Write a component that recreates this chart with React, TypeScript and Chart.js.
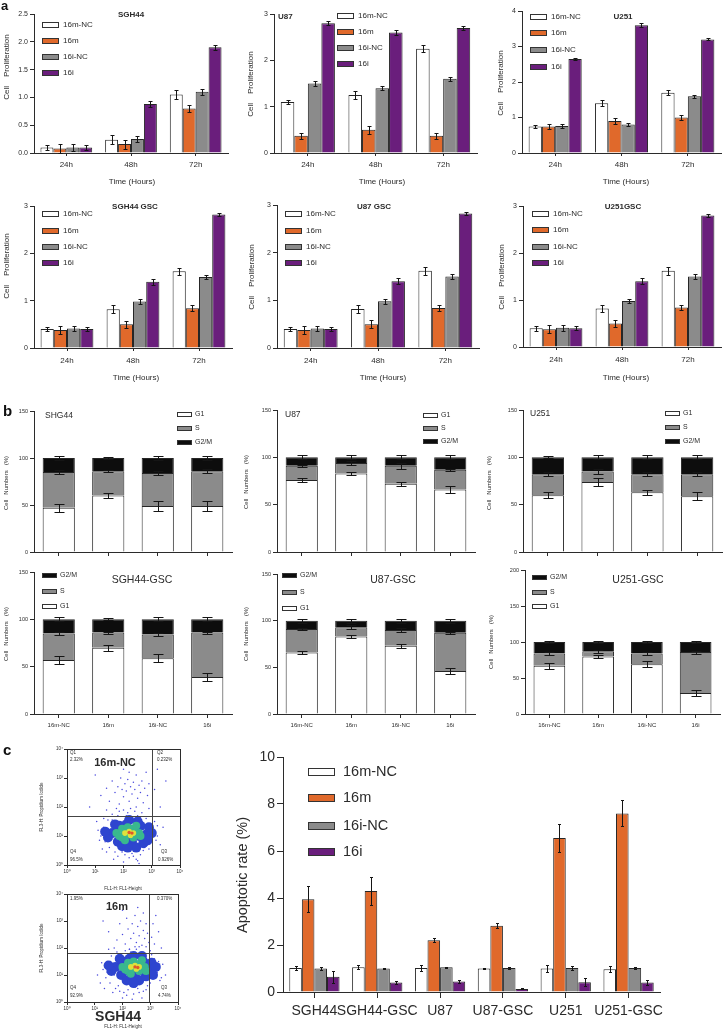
import React, { useEffect, useRef } from "react";
import { Chart, registerables } from "chart.js";

Chart.register(...registerables);

const FONT = "'Liberation Sans', Arial, Helvetica, sans-serif";
const INK = "#2b2b2b";
Chart.defaults.font.family = FONT;
Chart.defaults.color = INK;

const WHITE = "#ffffff";
const ORANGE = "#E0692B";
const GRAY = "#8B8B8B";
const PURPLE = "#6A1E7C";
const BLACK = "#0d0d0d";

// ---------------- panel a : proliferation ----------------
const TREATMENTS = ["16m-NC", "16m", "16i-NC", "16i"];
const TREATMENT_COLORS = [WHITE, ORANGE, GRAY, PURPLE];
const TIMES = ["24h", "48h", "72h"];

const SGH44_PROLIF = [
  [0.1, 0.24, 1.05],
  [0.08, 0.16, 0.8],
  [0.1, 0.25, 1.1],
  [0.1, 0.88, 1.9],
];
const SGH44_PROLIF_ERR = [
  [0.05, 0.08, 0.08],
  [0.08, 0.08, 0.06],
  [0.06, 0.05, 0.05],
  [0.05, 0.06, 0.04],
];
const U87_PROLIF = [
  [1.1, 1.25, 2.25],
  [0.37, 0.5, 0.37],
  [1.5, 1.4, 1.6],
  [2.8, 2.6, 2.7],
];
const U87_PROLIF_ERR = [
  [0.05, 0.08, 0.08],
  [0.07, 0.08, 0.06],
  [0.05, 0.05, 0.05],
  [0.04, 0.06, 0.04],
];
const U251_PROLIF = [
  [0.75, 1.4, 1.7],
  [0.75, 0.9, 1.0],
  [0.76, 0.8, 1.6],
  [2.65, 3.6, 3.2],
];
const U251_PROLIF_ERR = [
  [0.05, 0.08, 0.07],
  [0.08, 0.08, 0.06],
  [0.05, 0.05, 0.04],
  [0.03, 0.05, 0.03],
];
const SGH44GSC_PROLIF = [
  [0.4, 0.82, 1.62],
  [0.38, 0.5, 0.84],
  [0.41, 0.98, 1.5],
  [0.4, 1.4, 2.82],
];
const SGH44GSC_PROLIF_ERR = [
  [0.05, 0.08, 0.08],
  [0.08, 0.08, 0.06],
  [0.06, 0.05, 0.05],
  [0.04, 0.06, 0.03],
];
const U87GSC_PROLIF = [
  [0.4, 0.82, 1.62],
  [0.38, 0.5, 0.84],
  [0.41, 0.98, 1.5],
  [0.4, 1.4, 2.82],
];
const U87GSC_PROLIF_ERR = [
  [0.05, 0.08, 0.08],
  [0.08, 0.08, 0.06],
  [0.06, 0.05, 0.05],
  [0.04, 0.06, 0.03],
];
const U251GSC_PROLIF = [
  [0.4, 0.82, 1.62],
  [0.38, 0.5, 0.84],
  [0.41, 0.98, 1.5],
  [0.4, 1.4, 2.8],
];
const U251GSC_PROLIF_ERR = [
  [0.05, 0.08, 0.08],
  [0.08, 0.08, 0.06],
  [0.06, 0.05, 0.05],
  [0.04, 0.06, 0.03],
];

// ---------------- panel b : cell cycle ----------------
const PHASES = ["G1", "S", "G2/M"];
const PHASE_COLORS = [WHITE, GRAY, BLACK];

const SHG44_G1 = [47, 60, 49, 49];
const SHG44_S = [38, 26, 35, 37];
const SHG44_G2M = [15, 14, 16, 14];
const SHG44_ERR = [[4, 3, 5, 5], [2, 1, 2, 2], [2, 1, 2, 2]];

const U87_G1 = [76, 83, 72, 66];
const U87_S = [15, 11, 19, 21];
const U87_G2M = [9, 6, 9, 13];
const U87_ERR = [[2, 2, 2, 4], [1, 2, 3, 1], [2, 2, 2, 2]];

const U251_G1 = [60, 74, 63, 59];
const U251_S = [22, 11, 19, 23];
const U251_G2M = [18, 15, 18, 18];
const U251_ERR = [[3, 4, 3, 4], [2, 3, 2, 2], [1, 2, 2, 2]];

const SGH44GSC_G1 = [57, 70, 59, 39];
const SGH44GSC_S = [28, 16, 25, 47];
const SGH44GSC_G2M = [15, 14, 16, 14];
const SGH44GSC_ERR = [[4, 3, 4, 4], [2, 1, 2, 1], [2, 1, 2, 2]];

const U87GSC_G1 = [66, 83, 73, 46];
const U87GSC_S = [25, 10, 17, 41];
const U87GSC_G2M = [9, 7, 10, 13];
const U87GSC_ERR = [[2, 2, 2, 3], [1, 2, 2, 1], [2, 2, 2, 2]];

const U251GSC_G1 = [67, 80, 69, 29];
const U251GSC_S = [17, 7, 15, 57];
const U251GSC_G2M = [16, 13, 16, 14];
const U251GSC_ERR = [[4, 2, 4, 4], [2, 2, 2, 2], [2, 2, 2, 2]];

// ---------------- panel c : apoptosis ----------------
const CELL_LINES = ["SGH44", "SGH44-GSC", "U87", "U87-GSC", "U251", "U251-GSC"];
const APO_16M_NC = [1.02, 1.05, 1.02, 1.0, 1.0, 0.97];
const APO_16M = [3.95, 4.3, 2.2, 2.82, 6.55, 7.6];
const APO_16I_NC = [1.0, 1.0, 1.05, 1.02, 1.02, 1.02];
const APO_16I = [0.65, 0.4, 0.45, 0.13, 0.42, 0.4];
const APO_ERR = [
  [0.08, 0.08, 0.12, 0.02, 0.15, 0.12],
  [0.55, 0.58, 0.08, 0.1, 0.6, 0.55],
  [0.06, 0.04, 0.02, 0.05, 0.08, 0.05],
  [0.25, 0.05, 0.06, 0.02, 0.18, 0.12],
];

// flow cytometry (log10 units of FL1-H, FL3-H)
const DECADE_LABELS = ["10⁰", "10¹", "10²", "10³", "10⁴"];
const NC_GATE = { x: 3.0, y: 1.69 };
const M_GATE = { x: 2.97, y: 1.81 };
const NC_QUADRANTS = ["2.32%", "0.232%", "0.926%", "96.5%"];
const M_QUADRANTS = ["1.95%", "0.370%", "4.74%", "92.9%"];

const NC_FRINGE = [[1.2,1.0],[1.3,1.3],[1.35,0.8],[1.45,1.55],[1.5,0.6],[1.55,1.1],[1.6,1.75],[1.7,0.45],[1.75,1.4],[1.8,0.3],[1.85,1.85],[1.9,0.55],[2.0,1.9],[2.05,0.35],[2.1,1.7],[2.2,0.25],[2.25,1.95],[2.3,0.4],[2.4,1.85],[2.45,0.2],[2.5,1.7],[2.6,0.35],[2.65,1.8],[2.7,0.5],[2.8,1.6],[2.85,0.7],[2.95,1.4],[3.0,0.9],[3.05,1.2],[3.1,1.5],[3.2,1.0],[1.4,1.9],[2.9,1.95],[1.65,0.2],[3.3,0.7],[1.1,1.2],[2.55,0.05],[2.0,0.1],[3.4,1.3],[1.25,0.55],[1.15,0.85],[1.3,1.6],[1.4,0.45],[1.6,1.55],[1.95,0.45],[2.15,1.8],[2.35,0.3],[2.6,1.65],[2.75,0.6],[2.9,0.55],[3.15,0.85],[3.2,1.35],[1.05,1.5],[2.5,0.15],[1.8,1.7]];
const NC_UPPER = [[1.2,2.4],[1.5,2.2],[1.6,2.9],[1.7,2.5],[1.8,2.7],[1.85,2.1],[1.9,3.0],[1.95,2.6],[2.0,2.35],[2.05,2.8],[2.1,2.55],[2.15,2.95],[2.2,2.2],[2.25,2.7],[2.3,2.45],[2.35,2.85],[2.4,2.6],[2.45,3.1],[2.5,2.3],[2.55,2.75],[2.6,2.5],[2.65,2.9],[2.7,2.15],[2.75,2.65],[2.8,3.2],[2.85,2.4],[2.9,2.8],[1.4,2.65],[2.0,3.3],[1.75,1.95],[3.1,2.6],[3.3,2.0],[3.5,2.9],[3.2,3.3],[0.8,2.0],[1.0,3.1],[2.45,2.0],[2.2,3.2]];
const NC_DENSE_BLUE = [[1.6,1.1],[1.8,0.8],[1.85,1.35],[2.05,1.0],[2.1,1.4],[2.3,0.8],[2.35,1.2],[2.55,1.0],[2.6,1.35],[2.8,1.05],[1.95,0.65],[2.45,0.6],[1.45,0.95],[2.9,1.3],[2.2,1.55],[2.7,0.75],[1.35,1.15],[3.0,1.1],[2.15,0.6],[2.5,1.5],[1.7,1.4],[2.85,0.85]];
const NC_DENSE_GREEN = [[1.75,1.1],[1.95,0.95],[1.95,1.25],[2.15,1.05],[2.15,1.3],[2.35,0.95],[2.35,1.25],[2.55,1.1],[2.05,0.85],[2.45,1.35],[1.85,1.0],[2.6,1.0]];
const NC_DENSE_YELLOW = [[2.05,1.1],[2.2,1.15],[2.35,1.1],[2.25,1.03]];
const NC_DENSE_RED = [[2.2,1.12],[2.3,1.1]];

const M_FRINGE = [[1.3,1.2],[1.4,0.9],[1.45,1.5],[1.55,0.7],[1.6,1.7],[1.7,1.0],[1.75,0.5],[1.8,1.85],[1.9,0.4],[1.95,1.6],[2.05,0.35],[2.1,1.9],[2.2,0.45],[2.3,1.85],[2.4,0.3],[2.5,1.95],[2.55,0.5],[2.65,1.8],[2.75,0.4],[2.8,1.7],[2.9,0.6],[2.95,1.55],[3.05,0.9],[3.1,1.3],[3.15,1.6],[3.25,1.1],[3.35,0.8],[1.2,0.7],[3.45,1.4],[2.0,0.15],[2.7,0.15],[1.5,1.95],[3.0,1.9],[3.55,1.0],[1.1,1.0],[2.35,0.1],[1.25,1.45],[1.45,1.1],[1.65,0.35],[1.85,0.6],[2.15,0.25],[2.45,0.55],[2.6,0.35],[2.85,0.45],[3.0,0.7],[3.3,1.5],[3.4,0.9],[1.35,0.5],[2.25,1.95],[3.05,1.75]];
const M_UPPER = [[1.5,2.6],[1.8,2.3],[1.9,2.9],[2.0,2.5],[2.1,2.15],[2.15,3.1],[2.2,2.7],[2.3,2.35],[2.35,2.9],[2.4,2.55],[2.45,3.2],[2.5,2.2],[2.55,2.8],[2.6,2.45],[2.65,3.0],[2.7,2.1],[2.75,2.65],[2.8,2.35],[2.85,2.9],[2.9,2.55],[2.95,2.2],[2.75,3.3],[2.6,2.05],[2.45,2.05],[2.85,2.05],[3.05,2.4],[3.1,2.9],[3.15,2.15],[3.3,2.6],[3.2,3.2],[1.3,3.0],[1.7,2.0],[2.0,3.4],[2.25,1.95],[2.55,3.5],[3.4,2.0]];
const M_DENSE_BLUE = [[1.75,1.3],[1.95,1.0],[2.0,1.5],[2.2,1.15],[2.25,1.6],[2.45,0.95],[2.5,1.35],[2.7,1.15],[2.75,1.5],[2.95,1.25],[2.15,0.8],[2.6,0.8],[1.6,1.15],[3.05,1.45],[2.4,1.7],[2.85,0.95],[1.5,1.35],[3.2,1.3],[2.4,0.7],[2.7,1.7],[1.9,1.6],[3.1,1.0]];
const M_DENSE_GREEN = [[2.0,1.3],[2.2,1.15],[2.2,1.45],[2.4,1.25],[2.4,1.5],[2.6,1.15],[2.6,1.4],[2.8,1.3],[2.3,1.05],[2.7,1.55],[2.1,1.2],[2.85,1.15]];
const M_DENSE_YELLOW = [[2.3,1.3],[2.45,1.35],[2.6,1.3],[2.5,1.22]];
const M_DENSE_RED = [[2.45,1.3],[2.55,1.28]];

// ---------------- helpers ----------------
type Box = { left: number; top: number; width: number; height: number };
type Area = { l: number; t: number; r: number; b: number };
type Txt = { t: string; x: number; y: number; size: number; bold?: boolean; align?: CanvasTextAlign; rot?: boolean; color?: string };
type Legend = { x: number; ys: number[]; w: number; h: number; gap: number; size: number; labels: string[]; fills: string[] };
type Overlay = { errs?: number[][]; stacked?: boolean; cap?: number; legend?: Legend; texts?: Txt[]; frame?: boolean; gate?: { x: number; y: number } };

function overlay(box: Box, o: Overlay) {
  return {
    id: "overlay",
    afterDatasetsDraw(chart: any) {
      const ctx = chart.ctx;
      ctx.save();
      if (o.errs) {
        const ys = chart.scales.y;
        const ds = chart.data.datasets;
        ctx.strokeStyle = "#151515";
        ctx.lineWidth = 1;
        const c = o.cap ?? 2;
        o.errs.forEach((row, i) => {
          const meta = chart.getDatasetMeta(i);
          row.forEach((e, j) => {
            let v = 0;
            if (o.stacked) {
              for (let k = 0; k <= i; k++) v += ds[k].data[j];
            } else v = ds[i].data[j];
            const el = meta.data[j];
            const x = Math.round(el.x) + 0.5;
            const y1 = Math.round(ys.getPixelForValue(v + e)) + 0.5;
            const y2 = Math.round(ys.getPixelForValue(v - e)) + 0.5;
            ctx.beginPath();
            ctx.moveTo(x, y1);
            ctx.lineTo(x, y2);
            ctx.moveTo(x - c, y1);
            ctx.lineTo(x + c, y1);
            ctx.moveTo(x - c, y2);
            ctx.lineTo(x + c, y2);
            ctx.stroke();
          });
        });
      }
      if (o.gate) {
        const xs = chart.scales.x;
        const ys = chart.scales.y;
        const a = chart.chartArea;
        const gx = Math.round(xs.getPixelForValue(o.gate.x)) + 0.5;
        const gy = Math.round(ys.getPixelForValue(o.gate.y)) + 0.5;
        ctx.strokeStyle = "#444";
        ctx.lineWidth = 1;
        ctx.beginPath();
        ctx.moveTo(gx, a.top);
        ctx.lineTo(gx, a.bottom);
        ctx.moveTo(a.left, gy);
        ctx.lineTo(a.right, gy);
        ctx.stroke();
      }
      ctx.restore();
    },
    afterDraw(chart: any) {
      const ctx = chart.ctx;
      ctx.save();
      if (o.frame) {
        const a = chart.chartArea;
        ctx.strokeStyle = INK;
        ctx.lineWidth = 1;
        ctx.strokeRect(Math.round(a.left) + 0.5, Math.round(a.top) + 0.5, Math.round(a.right - a.left), Math.round(a.bottom - a.top));
      }
      if (o.legend) {
        const L = o.legend;
        L.labels.forEach((lab, i) => {
          const y = L.ys[i] - box.top;
          const x = L.x - box.left;
          ctx.fillStyle = L.fills[i];
          ctx.fillRect(x, Math.round(y - L.h / 2), L.w, L.h);
          ctx.strokeStyle = "#333";
          ctx.lineWidth = 1;
          ctx.strokeRect(x + 0.5, Math.round(y - L.h / 2) + 0.5, L.w - 1, L.h - 1);
          ctx.fillStyle = INK;
          ctx.font = `${L.size}px ${FONT}`;
          ctx.textAlign = "left";
          ctx.textBaseline = "middle";
          ctx.fillText(lab, x + L.w + L.gap, y);
        });
      }
      (o.texts || []).forEach((t) => {
        ctx.fillStyle = t.color || INK;
        ctx.font = `${t.bold ? "bold " : ""}${t.size}px ${FONT}`;
        ctx.textBaseline = "middle";
        if (t.rot) {
          ctx.save();
          ctx.translate(t.x - box.left, t.y - box.top);
          ctx.rotate(-Math.PI / 2);
          ctx.textAlign = "center";
          ctx.fillText(t.t, 0, 0);
          ctx.restore();
        } else {
          ctx.textAlign = t.align || "center";
          ctx.fillText(t.t, t.x - box.left, t.y - box.top);
        }
      });
      ctx.restore();
    },
  };
}

type BarSpec = {
  box: Box;
  area: Area;
  labels: string[];
  names: string[];
  colors: string[];
  values: number[][];
  errs: number[][];
  stacked?: boolean;
  yMax: number;
  yStep: number;
  yFmt?: (v: number) => string;
  yFont: number;
  yTick: number;
  xFont: number;
  xTick: number;
  xPad: number;
  showX: boolean;
  cat: number;
  cap: number;
  legend?: Legend;
  texts: Txt[];
};

function barConfig(p: BarSpec) {
  const { box, area } = p;
  return {
    type: "bar",
    data: {
      labels: p.labels,
      datasets: p.values.map((d, i) => ({
        label: p.names[i],
        data: d,
        backgroundColor: p.colors[i],
        borderColor: "#262626",
        borderWidth: 1,
        categoryPercentage: p.cat,
        barPercentage: 1,
        stack: p.stacked ? "s" : undefined,
      })),
    },
    options: {
      responsive: false,
      animation: false,
      devicePixelRatio: 1,
      layout: { padding: { left: 0, top: area.t - box.top, right: box.left + box.width - area.r, bottom: 0 } },
      plugins: { legend: { display: false }, tooltip: { enabled: false }, title: { display: false } },
      scales: {
        x: {
          stacked: !!p.stacked,
          grid: { display: true, drawOnChartArea: false, drawTicks: true, tickLength: p.xTick, color: INK, offset: false },
          border: { display: true, color: INK },
          ticks: { display: p.showX, font: { family: FONT, size: p.xFont }, color: INK, padding: p.xPad, maxRotation: 0, autoSkip: false },
          afterFit: (s: any) => {
            s.height = box.top + box.height - area.b;
          },
        },
        y: {
          stacked: !!p.stacked,
          min: 0,
          max: p.yMax,
          grid: { display: true, drawOnChartArea: false, drawTicks: true, tickLength: p.yTick, color: INK },
          border: { display: true, color: INK },
          ticks: {
            stepSize: p.yStep,
            font: { family: FONT, size: p.yFont },
            color: INK,
            padding: 2,
            callback: (v: number) => (p.yFmt ? p.yFmt(v) : String(v)),
          },
          afterFit: (s: any) => {
            s.width = area.l - box.left;
          },
        },
      },
    },
    plugins: [overlay(box, { errs: p.errs, stacked: p.stacked, cap: p.cap, legend: p.legend, texts: p.texts })],
  };
}

function aLegend(x: number, ys: number[]): Legend {
  return { x, ys, w: 17, h: 6, gap: 4, size: 8, labels: TREATMENTS, fills: TREATMENT_COLORS };
}

function aChart(box: Box, area: Area, values: number[][], errs: number[][], yMax: number, yStep: number, legend: Legend, texts: Txt[], fmt?: (v: number) => string, xPad = 4) {
  return barConfig({
    box, area, labels: TIMES, names: TREATMENTS, colors: TREATMENT_COLORS, values, errs,
    yMax, yStep, yFmt: fmt, yFont: 7, yTick: 4, xFont: 8, xTick: 3, xPad, showX: true, cat: 0.8, cap: 2,
    legend, texts,
  });
}

function bChart(box: Box, area: Area, g1: number[], s: number[], g2m: number[], errs: number[][], yMax: number, showX: boolean, legend: Legend, texts: Txt[]) {
  return barConfig({
    box, area, labels: TREATMENTS, names: PHASES, colors: PHASE_COLORS, values: [g1, s, g2m], errs, stacked: true,
    yMax, yStep: 50, yFont: 5.5, yTick: 4, xFont: 6, xTick: 4, xPad: 4, showX, cat: 0.65, cap: 5,
    legend, texts,
  });
}

function bLegend(x: number, ys: number[], topDown: string[]): Legend {
  return {
    x, ys, w: 15, h: 5, gap: 3, size: 7,
    labels: topDown,
    fills: topDown.map((n) => PHASE_COLORS[PHASES.indexOf(n)]),
  };
}

const pts = (a: number[][]) => a.map(([x, y]) => ({ x, y }));

function flowConfig(box: Box, area: Area, layers: number[][][], gate: { x: number; y: number }, texts: Txt[]) {
  // layers: fringe, upper, blue, green, yellow, red (later layers drawn on top)
  const styles = [
    { r: 0.75, c: "#4646dc" },
    { r: 0.75, c: "#4a4ade" },
    { r: 5, c: "#2e45cf" },
    { r: 4, c: "#39b88e" },
    { r: 2.8, c: "#dde23c" },
    { r: 1.7, c: "#e0562a" },
  ];
  const axis = (isX: boolean) => ({
    type: "linear",
    min: 0,
    max: 4,
    grid: { display: true, drawOnChartArea: false, drawTicks: true, tickLength: 3, color: INK },
    border: { display: true, color: INK },
    ticks: { stepSize: 1, font: { family: FONT, size: 4.5 }, color: INK, padding: 1, callback: (v: number) => DECADE_LABELS[v] },
    afterFit: (s: any) => {
      if (isX) s.height = box.top + box.height - area.b;
      else s.width = area.l - box.left;
    },
  });
  return {
    type: "scatter",
    data: {
      datasets: layers.map((d, i) => ({
        data: pts(d),
        order: layers.length - i,
        pointRadius: styles[i].r,
        backgroundColor: styles[i].c,
        pointBackgroundColor: styles[i].c,
        borderWidth: 0,
        pointBorderWidth: 0,
        pointHoverRadius: 0,
      })),
    },
    options: {
      responsive: false,
      animation: false,
      devicePixelRatio: 1,
      layout: { padding: { left: 0, top: area.t - box.top, right: box.left + box.width - area.r, bottom: 0 } },
      plugins: { legend: { display: false }, tooltip: { enabled: false } },
      scales: { x: axis(true), y: axis(false) },
    },
    plugins: [overlay(box, { frame: true, gate, texts })],
  };
}

function apoConfig() {
  const box = { left: 228, top: 745, width: 499, height: 285 };
  const area = { l: 283, t: 757, r: 660, b: 992 };
  return {
    box,
    make: () =>
      barConfig({
        box, area, labels: CELL_LINES, names: TREATMENTS, colors: TREATMENT_COLORS,
        values: [APO_16M_NC, APO_16M, APO_16I_NC, APO_16I], errs: APO_ERR,
        yMax: 10, yStep: 2, yFont: 14, yTick: 6, xFont: 14, xTick: 6, xPad: 5, showX: true, cat: 0.8, cap: 1.5,
        legend: { x: 308, ys: [772, 798, 826, 852], w: 27, h: 8, gap: 8, size: 14.5, labels: TREATMENTS, fills: TREATMENT_COLORS },
        texts: [{ t: "Apoptotic rate (%)", x: 243, y: 875, size: 14.5, rot: true }],
      }),
  };
}

// ---------------- chart list ----------------
const A_YT = "Cell    Proliferation";
const B_YT = "Cell   Numbers   (%)";

const CHARTS: { box: Box; make: () => any }[] = [];

function addA(box: Box, area: Area, vals: number[][], errs: number[][], yMax: number, yStep: number, legend: Legend, texts: Txt[], fmt?: (v: number) => string, xPad?: number) {
  CHARTS.push({ box, make: () => aChart(box, area, vals, errs, yMax, yStep, legend, texts, fmt, xPad) });
}
function addB(box: Box, area: Area, g1: number[], s: number[], g2m: number[], errs: number[][], yMax: number, showX: boolean, legend: Legend, texts: Txt[]) {
  CHARTS.push({ box, make: () => bChart(box, area, g1, s, g2m, errs, yMax, showX, legend, texts) });
}

// panel a row 1
addA({ left: 0, top: 0, width: 236, height: 192 }, { l: 34, t: 14, r: 228, b: 153 }, SGH44_PROLIF, SGH44_PROLIF_ERR, 2.5, 0.5,
  aLegend(42, [25, 41, 57, 73]),
  [
    { t: "SGH44", x: 131, y: 15, size: 8, bold: true },
    { t: "Time (Hours)", x: 132, y: 182, size: 8 },
    { t: A_YT, x: 7, y: 67, size: 8, rot: true },
  ], (v) => v.toFixed(1));
addA({ left: 240, top: 0, width: 242, height: 192 }, { l: 274, t: 14, r: 477, b: 153 }, U87_PROLIF, U87_PROLIF_ERR, 3, 1,
  aLegend(337, [16, 32, 48, 64]),
  [
    { t: "U87", x: 278, y: 17, size: 8, bold: true, align: "left" },
    { t: "Time (Hours)", x: 382, y: 182, size: 8 },
    { t: A_YT, x: 251, y: 84, size: 8, rot: true },
  ]);
addA({ left: 484, top: 0, width: 243, height: 192 }, { l: 522, t: 11, r: 721, b: 153 }, U251_PROLIF, U251_PROLIF_ERR, 4, 1,
  aLegend(530, [17, 33, 50, 67]),
  [
    { t: "U251", x: 623, y: 17, size: 8, bold: true },
    { t: "Time (Hours)", x: 626, y: 182, size: 8 },
    { t: A_YT, x: 501, y: 83, size: 8, rot: true },
  ]);
// panel a row 2
addA({ left: 0, top: 194, width: 236, height: 194 }, { l: 34, t: 206, r: 232, b: 348 }, SGH44GSC_PROLIF, SGH44GSC_PROLIF_ERR, 3, 1,
  aLegend(42, [214, 231, 247, 263]),
  [
    { t: "SGH44 GSC", x: 135, y: 207, size: 8, bold: true },
    { t: "Time (Hours)", x: 136, y: 378, size: 8 },
    { t: A_YT, x: 7, y: 266, size: 8, rot: true },
  ], undefined, 5);
addA({ left: 240, top: 194, width: 242, height: 194 }, { l: 277, t: 205, r: 479, b: 348 }, U87GSC_PROLIF, U87GSC_PROLIF_ERR, 3, 1,
  aLegend(285, [214, 231, 247, 263]),
  [
    { t: "U87 GSC", x: 374, y: 207, size: 8, bold: true },
    { t: "Time (Hours)", x: 383, y: 378, size: 8 },
    { t: A_YT, x: 252, y: 277, size: 8, rot: true },
  ], undefined, 5);
addA({ left: 484, top: 194, width: 243, height: 194 }, { l: 523, t: 206, r: 721, b: 347 }, U251GSC_PROLIF, U251GSC_PROLIF_ERR, 3, 1,
  aLegend(532, [214, 230, 247, 263]),
  [
    { t: "U251GSC", x: 623, y: 207, size: 8, bold: true },
    { t: "Time (Hours)", x: 626, y: 378, size: 8 },
    { t: A_YT, x: 502, y: 277, size: 8, rot: true },
  ], undefined, 5);

// panel b row 1
addB({ left: 0, top: 400, width: 238, height: 160 }, { l: 34, t: 411, r: 232, b: 552 }, SHG44_G1, SHG44_S, SHG44_G2M, SHG44_ERR, 150, false,
  bLegend(177, [414, 428, 442], ["G1", "S", "G2/M"]),
  [
    { t: "SHG44", x: 45, y: 416, size: 8.5, align: "left" },
    { t: B_YT, x: 6, y: 483, size: 6, rot: true },
  ]);
addB({ left: 240, top: 400, width: 240, height: 160 }, { l: 277, t: 410, r: 475, b: 552 }, U87_G1, U87_S, U87_G2M, U87_ERR, 150, false,
  bLegend(423, [415, 428, 441], ["G1", "S", "G2/M"]),
  [
    { t: "U87", x: 285, y: 415, size: 8.5, align: "left" },
    { t: B_YT, x: 246, y: 482, size: 6, rot: true },
  ]);
addB({ left: 484, top: 400, width: 243, height: 160 }, { l: 523, t: 410, r: 722, b: 552 }, U251_G1, U251_S, U251_G2M, U251_ERR, 150, false,
  bLegend(665, [413, 427, 441], ["G1", "S", "G2/M"]),
  [
    { t: "U251", x: 530, y: 414, size: 8.5, align: "left" },
    { t: B_YT, x: 489, y: 483, size: 6, rot: true },
  ]);
// panel b row 2
addB({ left: 0, top: 563, width: 238, height: 172 }, { l: 34, t: 572, r: 232, b: 714 }, SGH44GSC_G1, SGH44GSC_S, SGH44GSC_G2M, SGH44GSC_ERR, 150, true,
  bLegend(42, [575, 591, 606], ["G2/M", "S", "G1"]),
  [
    { t: "SGH44-GSC", x: 142, y: 580, size: 10.5 },
    { t: B_YT, x: 6, y: 634, size: 6, rot: true },
  ]);
addB({ left: 240, top: 563, width: 240, height: 172 }, { l: 277, t: 574, r: 475, b: 714 }, U87GSC_G1, U87GSC_S, U87GSC_G2M, U87GSC_ERR, 150, true,
  bLegend(282, [575, 592, 608], ["G2/M", "S", "G1"]),
  [
    { t: "U87-GSC", x: 393, y: 580, size: 10.5 },
    { t: B_YT, x: 246, y: 634, size: 6, rot: true },
  ]);
addB({ left: 484, top: 563, width: 243, height: 172 }, { l: 525, t: 570, r: 720, b: 714 }, U251GSC_G1, U251GSC_S, U251GSC_G2M, U251GSC_ERR, 200, true,
  bLegend(532, [577, 592, 606], ["G2/M", "S", "G1"]),
  [
    { t: "U251-GSC", x: 638, y: 580, size: 10.5 },
    { t: B_YT, x: 491, y: 642, size: 6, rot: true },
  ]);

// panel c flow plots
{
  const box = { left: 30, top: 740, width: 155, height: 160 };
  const area = { l: 67, t: 749, r: 180, b: 865 };
  CHARTS.push({
    box,
    make: () =>
      flowConfig(box, area, [NC_FRINGE, NC_UPPER, NC_DENSE_BLUE, NC_DENSE_GREEN, NC_DENSE_YELLOW, NC_DENSE_RED], NC_GATE, [
        { t: "Q1", x: 70, y: 753, size: 4.5, align: "left" },
        { t: NC_QUADRANTS[0], x: 70, y: 760, size: 4.5, align: "left" },
        { t: "Q2", x: 157, y: 753, size: 4.5, align: "left" },
        { t: NC_QUADRANTS[1], x: 157, y: 760, size: 4.5, align: "left" },
        { t: "Q3", x: 161, y: 852, size: 4.5, align: "left" },
        { t: NC_QUADRANTS[2], x: 158, y: 860, size: 4.5, align: "left" },
        { t: "Q4", x: 70, y: 852, size: 4.5, align: "left" },
        { t: NC_QUADRANTS[3], x: 70, y: 860, size: 4.5, align: "left" },
        { t: "16m-NC", x: 115, y: 763, size: 11, bold: true },
        { t: "FL3-H: Propidium Iodide", x: 42, y: 807, size: 4.5, rot: true },
        { t: "FL1-H: FL1-Height", x: 123, y: 889, size: 4.5 },
      ]),
  });
}
{
  const box = { left: 30, top: 885, width: 155, height: 145 };
  const area = { l: 67, t: 894, r: 178, b: 1002 };
  CHARTS.push({
    box,
    make: () =>
      flowConfig(box, area, [M_FRINGE, M_UPPER, M_DENSE_BLUE, M_DENSE_GREEN, M_DENSE_YELLOW, M_DENSE_RED], M_GATE, [
        { t: M_QUADRANTS[0], x: 70, y: 899, size: 4.5, align: "left" },
        { t: M_QUADRANTS[1], x: 157, y: 899, size: 4.5, align: "left" },
        { t: "Q3", x: 161, y: 988, size: 4.5, align: "left" },
        { t: M_QUADRANTS[2], x: 158, y: 996, size: 4.5, align: "left" },
        { t: "Q4", x: 70, y: 988, size: 4.5, align: "left" },
        { t: M_QUADRANTS[3], x: 70, y: 996, size: 4.5, align: "left" },
        { t: "16m", x: 117, y: 907, size: 11, bold: true },
        { t: "FL3-H: Propidium Iodide", x: 42, y: 948, size: 4.5, rot: true },
        { t: "SGH44", x: 118, y: 1017, size: 14, bold: true },
        { t: "FL1-H: FL1-Height", x: 123, y: 1027, size: 4.5 },
      ]),
  });
}
CHARTS.push(apoConfig());

function ChartBox({ spec }: { spec: { box: Box; make: () => any } }) {
  const ref = useRef<HTMLCanvasElement | null>(null);
  useEffect(() => {
    if (!ref.current) return;
    const chart = new Chart(ref.current, spec.make());
    return () => chart.destroy();
  }, [spec]);
  const b = spec.box;
  return (
    <div style={{ position: "absolute", left: b.left, top: b.top, width: b.width, height: b.height }}>
      <canvas ref={ref} width={b.width} height={b.height} style={{ display: "block" }} />
    </div>
  );
}

const letter = (t: string, left: number, top: number, size: number) => (
  <div style={{ position: "absolute", left, top, fontFamily: FONT, fontWeight: "bold", fontSize: size, lineHeight: `${size}px`, color: "#111" }}>{t}</div>
);

export default function App() {
  return (
    <div style={{ position: "absolute", left: 0, top: 0, width: 727, height: 1030, background: "#fff", overflow: "hidden" }}>
      {CHARTS.map((c, i) => (
        <ChartBox key={i} spec={c} />
      ))}
      {letter("a", 1, -1, 13)}
      {letter("b", 3, 403, 15)}
      {letter("c", 3, 742, 15)}
    </div>
  );
}
